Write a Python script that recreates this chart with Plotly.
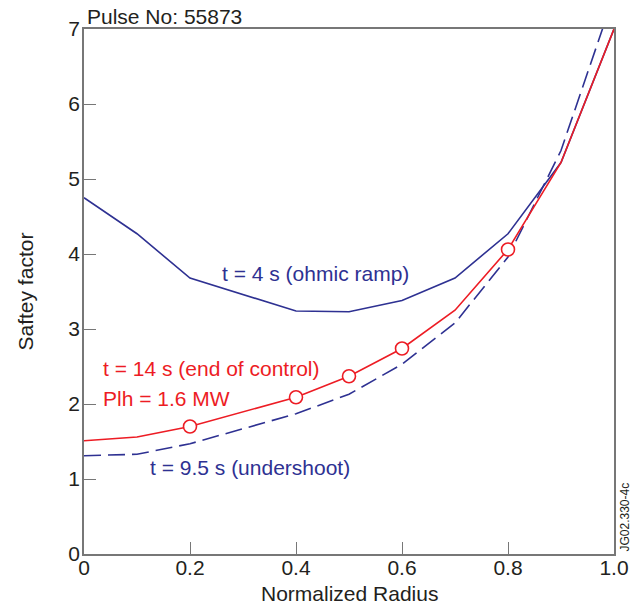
import plotly.graph_objects as go

radius = [0, 0.1, 0.2, 0.4, 0.5, 0.6, 0.7, 0.8, 0.9, 1.0]
q_ohmic = [4.75, 4.27, 3.68, 3.24, 3.23, 3.38, 3.68, 4.27, 5.22, 7.0]
q_control = [1.51, 1.56, 1.70, 2.09, 2.37, 2.74, 3.25, 4.06, 5.22, 7.0]
q_undershoot = [1.31, 1.33, 1.47, 1.87, 2.13, 2.53, 3.08, 3.96, 5.38, 7.45]
marker_r = [0.2, 0.4, 0.5, 0.6, 0.8]
marker_q = [1.70, 2.09, 2.37, 2.74, 4.06]

navy = "#2e3192"
red = "#ed1c24"
font = "Liberation Sans, Arial, sans-serif"

fig = go.Figure()
fig.add_trace(go.Scatter(x=radius, y=q_ohmic, mode="lines",
                         line=dict(color=navy, width=1.6)))
fig.add_trace(go.Scatter(x=radius, y=q_undershoot, mode="lines",
                         line=dict(color=navy, width=1.6, dash="17px,7px")))
fig.add_trace(go.Scatter(x=radius, y=q_control, mode="lines",
                         line=dict(color=red, width=1.6)))
fig.add_trace(go.Scatter(x=marker_r, y=marker_q, mode="markers",
                         marker=dict(symbol="circle", size=13, color="white",
                                     line=dict(color=red, width=1.6))))

fig.update_layout(
    width=638, height=610,
    margin=dict(l=84, r=24, t=29, b=56),
    plot_bgcolor="white", paper_bgcolor="white",
    showlegend=False,
    font=dict(family=font, size=21, color="#231f20"),
)
fig.update_xaxes(range=[0, 1.0], tickvals=[0, 0.2, 0.4, 0.6, 0.8, 1.0],
                 ticktext=["0", "0.2", "0.4", "0.6", "0.8", "1.0"],
                 ticks="inside", ticklen=12, tickcolor="#777", tickwidth=1.2,
                 showline=True, linecolor="#777", linewidth=1.5, mirror=True,
                 showgrid=False, zeroline=False, automargin=False,
                 ticklabelstandoff=-6)
fig.update_yaxes(range=[0, 7], tickvals=[0, 1, 2, 3, 4, 5, 6, 7],
                 ticks="inside", ticklen=12, tickcolor="#777", tickwidth=1.2,
                 showline=True, linecolor="#777", linewidth=1.5, mirror=True,
                 showgrid=False, zeroline=False, automargin=False,
                 ticklabelstandoff=-2)

notes = [
    ("t = 4 s (ohmic ramp)", 0.257, 3.74, navy),
    ("t = 14 s (end of control)", 0.032, 2.48, red),
    ("Plh = 1.6 MW", 0.032, 2.08, red),
    ("t = 9.5 s (undershoot)", 0.121, 1.16, navy),
]
for text, x, y, c in notes:
    fig.add_annotation(x=x, y=y, text=text, showarrow=False, xanchor="left",
                       yanchor="middle", font=dict(color=c, size=21))

# axis titles and labels placed as in the original figure
fig.add_annotation(x=0.5, y=0, xref="paper", yref="paper", text="Normalized Radius",
                   showarrow=False, xanchor="center", yanchor="middle", yshift=-39)
fig.add_annotation(x=0, y=0.5, xref="paper", yref="paper", text="Saftey factor",
                   showarrow=False, textangle=-90, xanchor="center", yanchor="middle",
                   xshift=-59)
fig.add_annotation(x=0.002, y=1.0, xref="paper", yref="paper", text="Pulse No: 55873",
                   showarrow=False, xanchor="left", yanchor="bottom", yshift=-1)
fig.add_annotation(x=1.0, y=0.0, xref="paper", yref="paper", text="JG02.330-4c",
                   showarrow=False, textangle=-90, xanchor="left", yanchor="bottom",
                   xshift=1, yshift=0, font=dict(size=12))

fig.write_html("out.html", config={"displayModeBar": False},
               post_script="document.body.style.margin='0';")
